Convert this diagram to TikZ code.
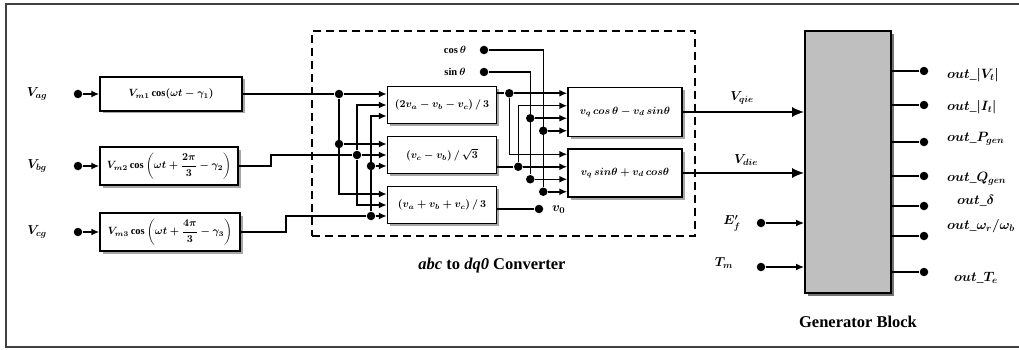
\RequirePackage{fix-cm}
\documentclass[tikz,border=0pt]{standalone}
\usepackage{fontspec}
\setmainfont{Liberation Serif}
\usepackage{amsmath}
\usetikzlibrary{arrows.meta,shadows,calc}

\begin{document}
\boldmath
\begin{tikzpicture}[x=1pt,y=-1pt,>={Latex[length=8pt,width=7pt]},line width=1.5pt,
  blk/.style={draw,fill=white,line width=1.5pt,inner sep=0pt,font=\fontsize{10.5}{12}\selectfont,
    drop shadow={shadow xshift=2.5pt,shadow yshift=-2.5pt,fill=black!35,opacity=1}},
  dotn/.style={circle,fill=black,inner sep=0pt,minimum size=8.5pt},
  lbl/.style={font=\fontsize{13}{15}\selectfont},
  olbl/.style={anchor=west,font=\fontsize{13.5}{15}\selectfont},
  captxt/.style={font=\fontsize{16.5}{18}\selectfont\bfseries},
  big/.style={-{Latex[length=12pt,width=10pt]}}]
	\useasboundingbox (0,0) rectangle (1019,350);
	\draw[black!75,line width=1.8pt] (6,4) rectangle (1030,347);
	\node[blk,minimum width=142pt,minimum height=34pt] (mA) at (171,94) {$V_{m1}\cos(\omega t-\gamma_1)$};
	\node[blk,minimum width=138pt,minimum height=38pt] (mB) at (169,166) {$V_{m2}\cos\left(\omega t+\dfrac{2\pi}{3}-\gamma_2\right)$};
	\node[blk,minimum width=140pt,minimum height=38pt] (mC) at (170,232) {$V_{m3}\cos\left(\omega t+\dfrac{4\pi}{3}-\gamma_3\right)$};
	\foreach \n/\s/\yy in {A/a/94,B/b/166,C/c/232}{
		\node[lbl] (v\s) at (37,\yy) {$V_{\s g}$};
		\node[dotn] (i\s) at (78,\yy) {};
		\draw[->] (i\s) -- (m\n.west);
	}
	\node[draw,dashed,dash pattern=on 8pt off 5pt,line width=1.5pt,minimum width=383pt,minimum height=205pt] (conv) at (503.5,133.5) {};
	\node[captxt] (convt) at (492,266) {\textit{abc} to \textit{dq0} Converter};
	\node[blk,minimum width=109pt,minimum height=37pt] (b1) at (442,105) {$(2v_a-v_b-v_c)\,/\,3$};
	\node[blk,minimum width=109pt,minimum height=37pt] (b2) at (442,155) {$(v_c-v_b)\,/\,\sqrt{3}$};
	\node[blk,minimum width=109pt,minimum height=37pt] (b3) at (442,205) {$(v_a+v_b+v_c)\,/\,3$};
	\node[blk,minimum width=114pt,minimum height=49pt] (b4) at (625,112) {$v_q\,cos\,\theta-v_d\,sin\theta$};
	\node[blk,minimum width=114pt,minimum height=48pt] (b5) at (625,173) {$v_q\,sin\theta+v_d\,cos\theta$};
	\foreach \b in {b1,b2,b3}{\foreach \k/\s in {1/11,2/0,3/-11}{\coordinate (\b-\k) at ([yshift=\s pt]\b.west);}}
	\foreach \b in {b4,b5}{\foreach \k/\s in {1/18.75,2/6.25,3/-6.25,4/-18.75}{\coordinate (\b-\k) at ([yshift=\s pt]\b.west);}}
	\node[dotn] (ja) at (339,94) {};
	\node[dotn] (ja2) at (ja |- b2-1) {};
	\node[dotn] (jb) at (357,155) {};
	\node[dotn] (jc) at (371,216) {};
	\node[dotn] (jc2) at (jc |- b2-3) {};
	\draw (mA.east) -- (ja);
	\draw[->] (ja) -- (b1-1);
	\draw[->] (ja) |- (b3-1);
	\draw[->] (ja2) -- (b2-1);
	\draw (mB.east) -- ++(32,0) |- (jb);
	\draw[->] (jb) -- (b2-2);
	\draw[->] (jb) |- (b1-2);
	\draw[->] (jb) |- (b3-2);
	\draw (mC.east) -- ++(45,0) |- (jc);
	\draw[->] (jc) -- (b3-3);
	\draw[->] (jc) |- (b1-3);
	\draw[->] (jc2) -- (b2-3);
	\node[dotn] (jd) at ($(b4-1)+(-58,0)$) {};
	\node[dotn] (je) at ($(b5-2)+(-49,0)$) {};
	\draw (b1.east |- jd) -- (jd);
	\draw[->] (jd) -- (b4-1);
	\draw[->] (jd) |- (b5-1);
	\draw (b2.east |- je) -- (je);
	\draw[->] (je) -- (b5-2);
	\draw[->] (je) |- (b4-2);
	\node[lbl,font=\fontsize{10.5}{12}\selectfont] (cst) at (455,50) {$\cos\theta$};
	\node[dotn] (cs) at (484,50) {};
	\node[dotn] (cs1) at ($(b4-4)+(-24,0)$) {};
	\node[dotn] (cs2) at (cs1 |- b5-4) {};
	\draw (cs) -| (cs2);
	\draw[->] (cs1) -- (b4-4);
	\draw[->] (cs2) -- (b5-4);
	\node[lbl,font=\fontsize{10.5}{12}\selectfont] (snt) at (455,72) {$\sin\theta$};
	\node[dotn] (sn) at (484,72) {};
	\node[dotn] (sn1) at ($(b4-3)+(-37,0)$) {};
	\node[dotn] (sn2) at (sn1 |- b5-3) {};
	\draw (sn) -| (sn2);
	\draw[->] (sn1) -- (b4-3);
	\draw[->] (sn2) -- (b5-3);
	\node[dotn] (v0) at (539,209) {};
	\draw (b3.east |- v0) -- (v0);
	\node[lbl,anchor=west] (v0t) at (548,210) {$v_0$};
	\node[draw,fill=gray!50,line width=1.8pt,minimum width=86pt,minimum height=262pt,
		drop shadow={shadow xshift=3pt,shadow yshift=-3pt,fill=black!55,opacity=1}] (gen) at (848,162) {};
	\node[captxt] (gent) at (858,322) {Generator Block};
	\draw[big] (b4.east) -- (gen.west |- b4.east);
	\draw[big] (b5.east) -- (gen.west |- b5.east);
	\node[lbl] (vq) at (742,98) {$V_{qie}$};
	\node[lbl] (vd) at (746,160) {$V_{die}$};
	\node[lbl] (ef) at (732,223) {$E'_f$};
	\node[dotn] (efd) at (761,223) {};
	\draw[->] (efd) -- (gen.west |- efd);
	\node[lbl] (tm) at (724,263) {$T_m$};
	\node[dotn] (tmd) at (761,267) {};
	\draw[->] (tmd) -- (gen.west |- tmd);
	\foreach \yy [count=\i] in {71,105,142,176,206,236,272}{
		\node[dotn] (o\i) at (924,\yy) {};
		\draw (gen.east |- o\i) -- (o\i);
	}
	\node[olbl] (ot1) at (943,75) {$out\_|V_t|$};
	\node[olbl] (ot2) at (943,107) {$out\_|I_t|$};
	\node[olbl] (ot3) at (943,139) {$out\_P_{gen}$};
	\node[olbl] (ot4) at (943,179) {$out\_Q_{gen}$};
	\node[olbl] (ot5) at (953,201) {$out\_\delta$};
	\node[olbl] (ot6) at (943,226) {$out\_\omega_r/\omega_b$};
	\node[olbl] (ot7) at (950,278) {$out\_T_e$};
\end{tikzpicture}
\end{document}
